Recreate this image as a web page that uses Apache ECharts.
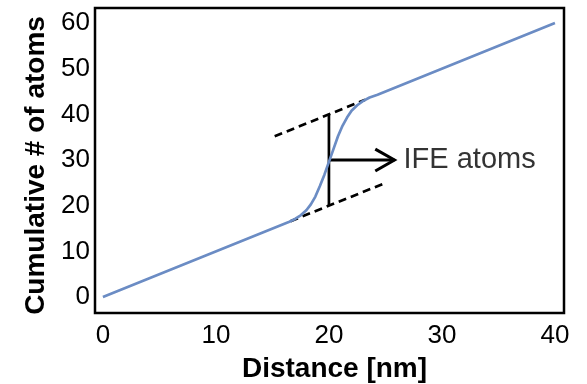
<!DOCTYPE html>
<html>
<head>
<meta charset="utf-8">
<script src="https://cdn.jsdelivr.net/npm/echarts@6/dist/echarts.min.js"></script>
<style>html,body{margin:0;padding:0;background:#fff}#c{width:587px;height:384px}</style>
</head>
<body>
<div id="c"></div>
<script>
// Main curve: distance [nm] vs cumulative # of atoms
const distance = [0, 16.5, 17.0, 17.5, 18.0, 18.4, 18.8, 19.2, 19.6, 20.0, 20.4, 20.8, 21.2, 21.6, 22.0, 22.5, 23.0, 23.6, 24.3, 40];
const atoms    = [0, 16.5, 17.1, 17.9, 19.0, 20.3, 22.0, 24.3, 26.8, 29.6, 32.4, 35.2, 37.5, 39.3, 40.8, 42.0, 42.9, 43.7, 44.3, 60];
// Annotation: dashed guide lines
const upperDashX = [15.2, 23.2];
const upperDashY = [35.2, 43.2];
const lowerDashX = [16.6, 24.8];
const lowerDashY = [16.6, 24.8];
// Vertical bracket and arrow
const bracketX = [20, 20];
const bracketY = [20, 40];
const arrowX = [20, 25.8];
const arrowY = [30, 30];
const headX = [24.1, 25.8, 24.1];
const headY = [32.4, 30, 27.6];
const labelPos = [26.6, 30];
const labelText = 'IFE atoms';
const xTicks = [0, 10, 20, 30, 40];
const yTicks = [0, 10, 20, 30, 40, 50, 60];

const zip = (a, b) => a.map((v, i) => [v, b[i]]);
const font = 'Liberation Sans, Arial, sans-serif';

const chart = echarts.init(document.getElementById('c'));
chart.setOption({
  animation: false,
  grid: { left: 95, top: 8, right: 23, bottom: 71, show: true, borderColor: '#000', borderWidth: 2.5,
    containLabel: false, outerBoundsMode: 'none' },
  xAxis: {
    type: 'value', min: -0.7, max: 40.8,
    name: 'Distance [nm]', nameLocation: 'middle', nameGap: 42,
    nameTextStyle: { fontFamily: font, fontSize: 28, fontWeight: 'bold', color: '#000', padding: [0, 0, 0, 10] },
    axisLine: { show: false }, axisTick: { show: false }, splitLine: { show: false },
    axisLabel: { customValues: xTicks, fontFamily: font, fontSize: 26, color: '#000', margin: 10 }
  },
  yAxis: {
    type: 'value', min: -3.5, max: 63.3,
    name: 'Cumulative # of atoms', nameLocation: 'middle', nameGap: 38, nameRotate: 90,
    nameTextStyle: { fontFamily: font, fontSize: 28, fontWeight: 'bold', color: '#000', padding: [0, 10, 0, 0] },
    axisLine: { show: false }, axisTick: { show: false }, splitLine: { show: false },
    axisLabel: { customValues: yTicks, fontFamily: font, fontSize: 26, color: '#000', margin: 5 }
  },
  series: [
    { type: 'line', data: zip(distance, atoms), smooth: false, showSymbol: false,
      lineStyle: { color: '#6b8cc4', width: 2.7, join: 'round' }, z: 3 },
    { type: 'line', data: zip(upperDashX, upperDashY), showSymbol: false,
      lineStyle: { color: '#000', width: 2.7, type: [8, 5] }, z: 2 },
    { type: 'line', data: zip(lowerDashX, lowerDashY), showSymbol: false,
      lineStyle: { color: '#000', width: 2.7, type: [8, 5] }, z: 2 },
    { type: 'line', data: zip(bracketX, bracketY), showSymbol: false,
      lineStyle: { color: '#000', width: 2.7 }, z: 2 },
    { type: 'line', data: zip(arrowX, arrowY), showSymbol: false,
      lineStyle: { color: '#000', width: 3 }, z: 2 },
    { type: 'line', data: zip(headX, headY), showSymbol: false,
      lineStyle: { color: '#000', width: 3, join: 'miter' }, z: 2 },
    { type: 'scatter', data: [labelPos], symbolSize: 0,
      label: { show: true, position: 'right', distance: 0, formatter: labelText,
        fontFamily: font, fontSize: 29, color: '#000' } }
  ]
});
</script>
</body>
</html>
